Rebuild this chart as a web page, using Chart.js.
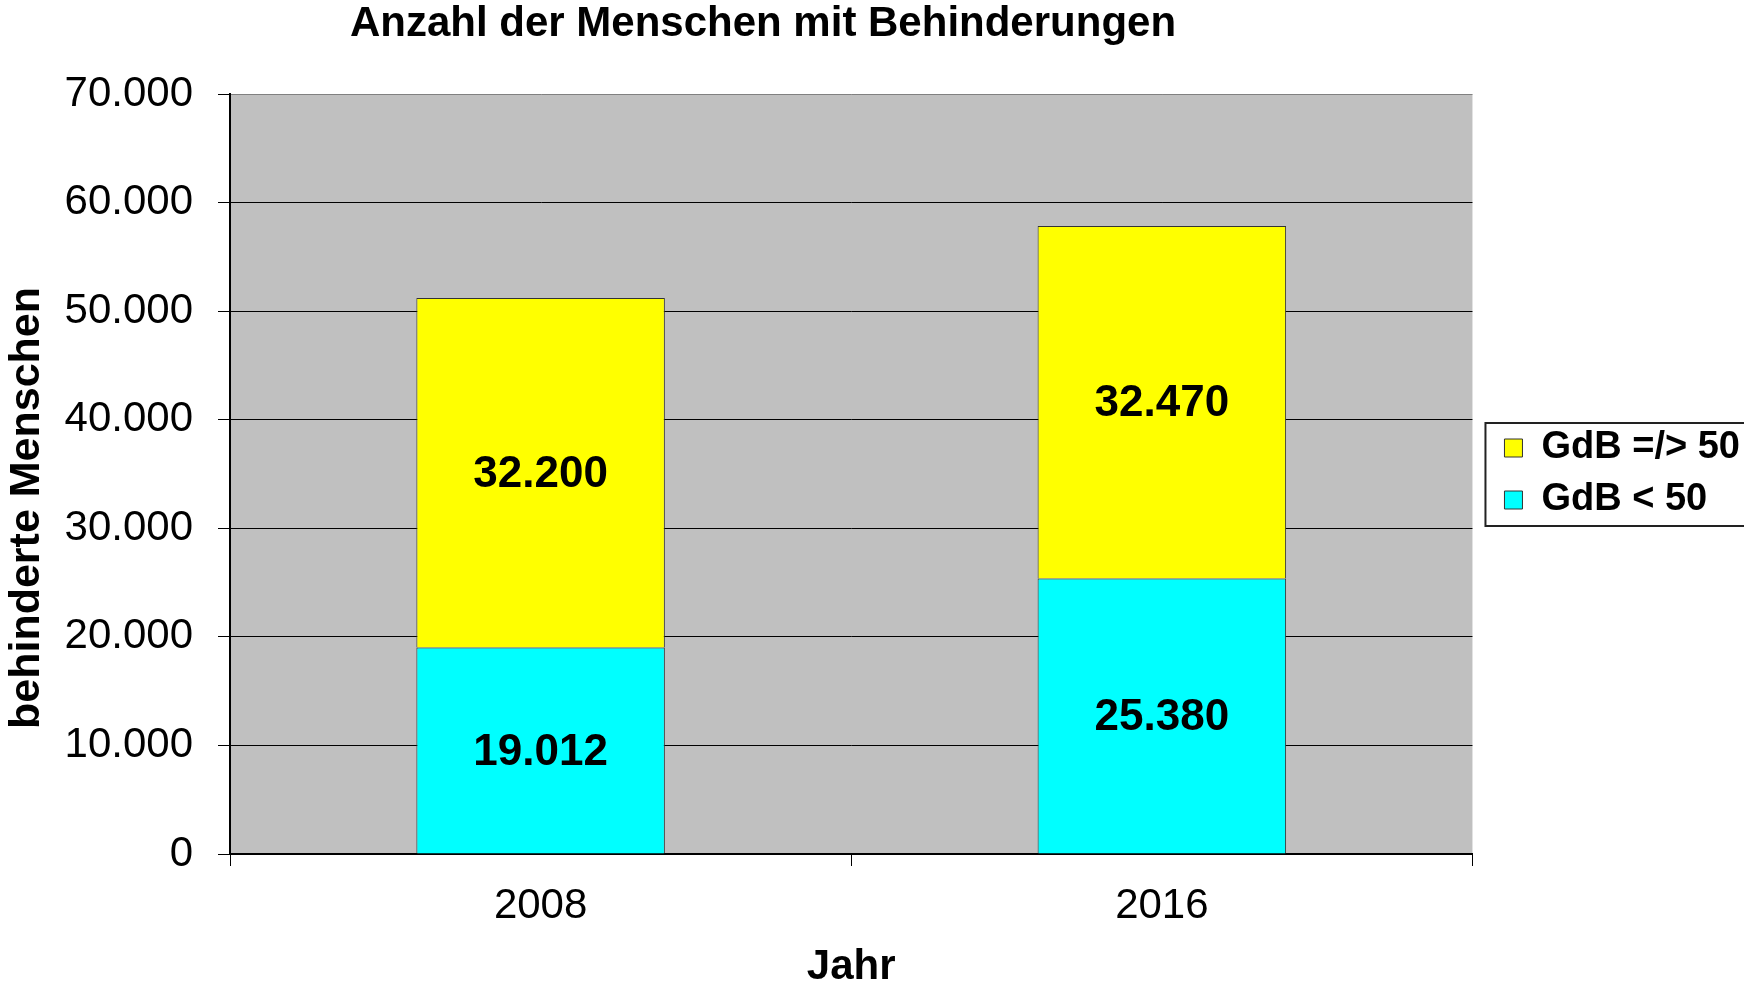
<!DOCTYPE html>
<html>
<head>
<meta charset="utf-8">
<script src="https://cdn.jsdelivr.net/npm/chart.js@4/dist/chart.umd.min.js"></script>
<style>
  html, body { margin: 0; padding: 0; background: #fff; }
  #wrap { width: 1744px; height: 986px; }
</style>
</head>
<body>
<div id="wrap"><canvas id="behindChart" width="1744" height="986"></canvas></div>
<script>
const years = ["2008", "2016"];
const gdbUnter50 = [19012, 25380];
const gdbAb50 = [32200, 32470];
const seriesNames = ["GdB < 50", "GdB =/> 50"];
const yTicks = [0, 10000, 20000, 30000, 40000, 50000, 60000, 70000];

const chartTitle = "Anzahl der Menschen mit Behinderungen";
const yTitle = "behinderte Menschen";
const FONT = "'Liberation Sans', Arial, sans-serif";

function fmt(v) {
    return String(v).replace(/\B(?=(\d{3})+(?!\d))/g, ".");
}

document.addEventListener("DOMContentLoaded", () => {
    const ctx = document.getElementById("behindChart").getContext("2d");

    Chart.defaults.font.family = FONT;
    Chart.defaults.font.size = 42;
    Chart.defaults.color = "#000";

    // grey plot background
    const plotBg = {
        id: "plotBg",
        beforeDraw(chart) {
            const a = chart.chartArea;
            const c = chart.ctx;
            c.save();
            c.fillStyle = "#c0c0c0";
            c.fillRect(a.left, a.top, a.right - a.left, a.bottom - a.top);
            c.restore();
        }
    };

    // values written inside the bar segments
    const barValues = {
        id: "barValues",
        afterDatasetsDraw(chart) {
            const c = chart.ctx;
            c.save();
            c.font = "bold 44px " + FONT;
            c.fillStyle = "#000";
            c.textAlign = "center";
            c.textBaseline = "middle";
            chart.data.datasets.forEach((ds, i) => {
                chart.getDatasetMeta(i).data.forEach((bar, j) => {
                    const p = bar.getProps(["x", "y", "base"], true);
                    c.fillText(fmt(ds.data[j]), p.x, (p.y + p.base) / 2 + 2);
                });
            });
            c.restore();
        }
    };

    // chart title, y title and frame round the legend
    const extras = {
        id: "extras",
        afterDraw(chart) {
            const c = chart.ctx;
            c.save();
            c.font = "bold 42px " + FONT;
            c.fillStyle = "#000";
            c.textAlign = "center";
            c.textBaseline = "middle";
            c.fillText(chartTitle, 763, 24);

            c.save();
            c.translate(27, 508);
            c.rotate(-Math.PI / 2);
            c.font = "bold 43px " + FONT;
            c.fillText(yTitle, 0, 0);
            c.restore();

            const hb = chart.legend.legendHitBoxes;
            if (hb && hb.length) {
                const first = hb[0], last = hb[hb.length - 1];
                const top = first.top + first.height / 2 - 25;
                const bottom = last.top + last.height / 2 + 26;
                const left = first.left - 19;
                c.strokeStyle = "#222";
                c.lineWidth = 2;
                c.strokeRect(left, top, chart.width + 10 - left, bottom - top);
            }
            c.restore();
        }
    };

    const data = {
        labels: years,
        datasets: [
            {
                label: seriesNames[0],
                data: gdbUnter50,
                backgroundColor: "#00ffff",
                borderColor: "#333",
                borderWidth: 1
            },
            {
                label: seriesNames[1],
                data: gdbAb50,
                backgroundColor: "#ffff00",
                borderColor: "#333",
                borderWidth: 1
            }
        ]
    };

    const options = {
        responsive: false,
        animation: false,
        layout: {
            padding: { top: 94, right: -6, bottom: 0, left: 0 }
        },
        datasets: {
            bar: {
                categoryPercentage: 1,
                barPercentage: 0.4
            }
        },
        plugins: {
            title: { display: false },
            tooltip: { enabled: false },
            legend: {
                display: true,
                position: "right",
                fullSize: false,
                reverse: true,
                labels: {
                    boxWidth: 18,
                    boxHeight: 18,
                    padding: 14,
                    color: "#000",
                    font: { size: 38, weight: "bold" }
                }
            }
        },
        scales: {
            x: {
                stacked: true,
                afterFit: (scale) => { scale.height = 132; },
                grid: {
                    offset: true,
                    drawOnChartArea: true,
                    color: (c) => (c.index === years.length ? "#808080" : "rgba(0,0,0,0)"),
                    tickColor: "#000",
                    tickLength: 12,
                    lineWidth: 1
                },
                border: { display: true, color: "#000", width: 2 },
                ticks: {
                    padding: 19,
                    font: { size: 42, lineHeight: 1 },
                    color: "#000"
                },
                title: {
                    display: true,
                    text: "Jahr",
                    font: { size: 42, weight: "bold", lineHeight: 1 },
                    padding: { top: 0, bottom: -2 },
                    color: "#000"
                }
            },
            y: {
                stacked: true,
                min: 0,
                max: 70000,
                afterFit: (scale) => { scale.width = 230; },
                afterBuildTicks: (scale) => {
                    scale.ticks = yTicks.map((v) => ({ value: v }));
                },
                grid: {
                    color: (c) => (c.tick && c.tick.value === 70000 ? "#808080" : "#000"),
                    tickColor: "#000",
                    tickLength: 12,
                    lineWidth: 1
                },
                border: { display: true, color: "#000", width: 2 },
                ticks: {
                    padding: 25,
                    font: { size: 42 },
                    color: "#000",
                    callback: (v) => fmt(v)
                },
                title: { display: false }
            },
            yGap: {
                position: "right",
                display: true,
                grid: { display: false },
                border: { display: false },
                ticks: { display: false },
                afterFit: (scale) => { scale.width = 18; }
            }
        }
    };

    new Chart(ctx, {
        type: "bar",
        data: data,
        options: options,
        plugins: [plotBg, barValues, extras]
    });
});
</script>
</body>
</html>
